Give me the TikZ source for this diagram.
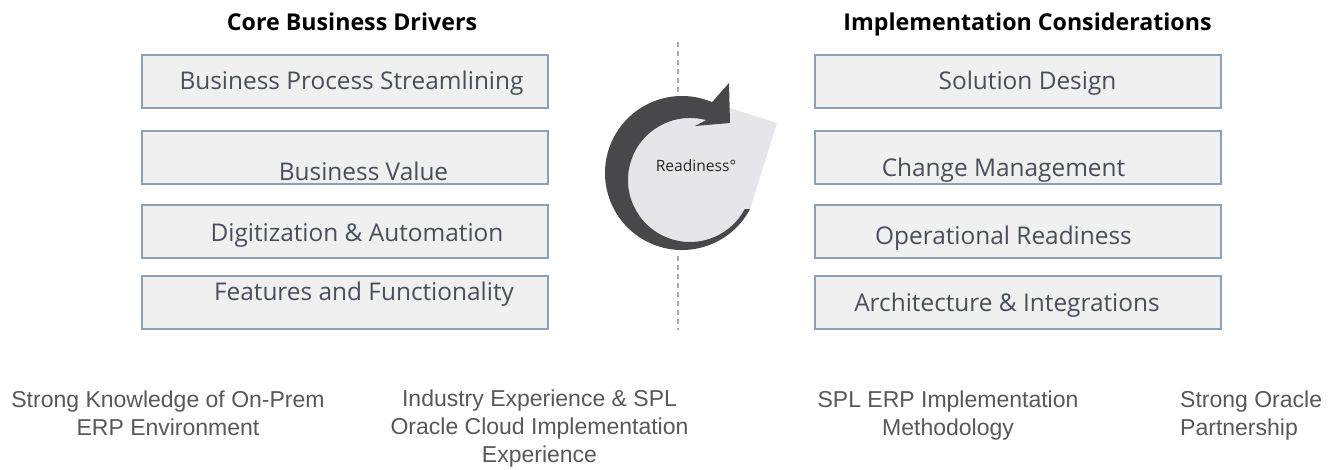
\documentclass[tikz,border=0pt]{standalone}
\usepackage{fontspec}
\setmainfont{Open Sans}
\newfontfamily\condfont{Liberation Sans}
\definecolor{boxline}{HTML}{8DA1B5}
\definecolor{boxfill}{HTML}{F0F0F0}
\definecolor{boxtext}{HTML}{4A4E5A}
\definecolor{foottext}{HTML}{585858}
\definecolor{ringdark}{HTML}{48484A}
\definecolor{ringlight}{HTML}{E6E6EA}
\definecolor{sepgray}{HTML}{ABABAB}
\begin{document}
\begin{tikzpicture}[x=1pt,y=1pt,
  box/.style={draw=boxline, line width=2pt, fill=boxfill, minimum width=406pt, minimum height=53pt, inner sep=0pt},
  boxtxt/.style={anchor=base, inner sep=0pt, text=boxtext, font=\fontsize{24.4}{28}\selectfont},
  title/.style={anchor=base, inner sep=0pt, text=black, font=\bfseries\fontsize{23.2}{26}\selectfont},
  foot/.style={anchor=base, inner sep=0pt, align=center, text=foottext, font=\condfont\fontsize{23}{28}\selectfont},
  sepline/.style={draw=sepgray, line width=1.5pt, dash pattern=on 5pt off 4pt},
  ringtxt/.style={inner sep=0pt, anchor=base, text=black!85, font=\fontsize{15.6}{18}\selectfont}]
\useasboundingbox (0,0) rectangle (1343,-469);
\fill[white] (0,0) rectangle (1343,-469);

% titles
\node[title] (t1) at (352,-30.5) {Core Business Drivers};
\node[title] (t2) at (1027.5,-30) {Implementation Considerations};

% left boxes
\node[box] (l1) at (345,-81.5) {};
\node[box] (l2) at (345,-157.5) {};
\node[box] (l3) at (345,-231.5) {};
\node[box] (l4) at (345,-302.5) {};
\node[boxtxt] (l1t) at (351.5,-89) {Business Process Streamlining};
\node[boxtxt] (l2t) at (363.5,-180) {Business Value};
\node[boxtxt] (l3t) at (357,-241) {Digitization \& Automation};
\node[boxtxt] (l4t) at (364,-300) {Features and Functionality};

% right boxes
\node[box] (r1) at (1018,-81.5) {};
\node[box] (r2) at (1018,-157.5) {};
\node[box] (r3) at (1018,-231.5) {};
\node[box] (r4) at (1018,-302.5) {};
\node[boxtxt] (r1t) at (1027.5,-89) {Solution Design};
\node[boxtxt] (r2t) at (1003.5,-176) {Change Management};
\node[boxtxt] (r3t) at (1003.5,-244) {Operational Readiness};
\node[boxtxt] (r4t) at (1007,-311.7) {Architecture \& Integrations};

% dashed separator
\coordinate (s1) at (678,-42);
\coordinate (s2) at (678,-92);
\coordinate (s3) at (678,-256);
\coordinate (s4) at (678,-330);
\draw[sepline] (s1) -- (s2);
\draw[sepline] (s3) -- (s4);

% readiness ring
\fill[ringlight] (690,-180) circle[radius=62];
\fill[ringlight] (700,-125) -- (730,-108) -- (777,-123) -- (750,-209) -- (700,-235) -- cycle;
\fill[ringdark] (749.99,-209.15) arc[start angle=-28, end angle=-293, radius=77]
  -- (729,-83) -- (730,-123) -- (695,-126) -- (706.05,-120.1)
  arc[start angle=75, end angle=332, radius=62] -- cycle;
\node[ringtxt] (rd) at (696,-171.7) {Readiness°};

% footer (anchor base = last line baseline)
\node[foot] (f1) at (168,-435) {Strong Knowledge of On-Prem\\ERP Environment};
\node[foot] (f2) at (539.5,-462.5) {Industry Experience \& SPL\\Oracle Cloud Implementation\\Experience};
\node[foot] (f3) at (948,-435) {SPL ERP Implementation\\Methodology};
\node[foot, anchor=base west, align=left] (f4) at (1180,-435) {Strong Oracle\\Partnership};
\end{tikzpicture}
\end{document}
